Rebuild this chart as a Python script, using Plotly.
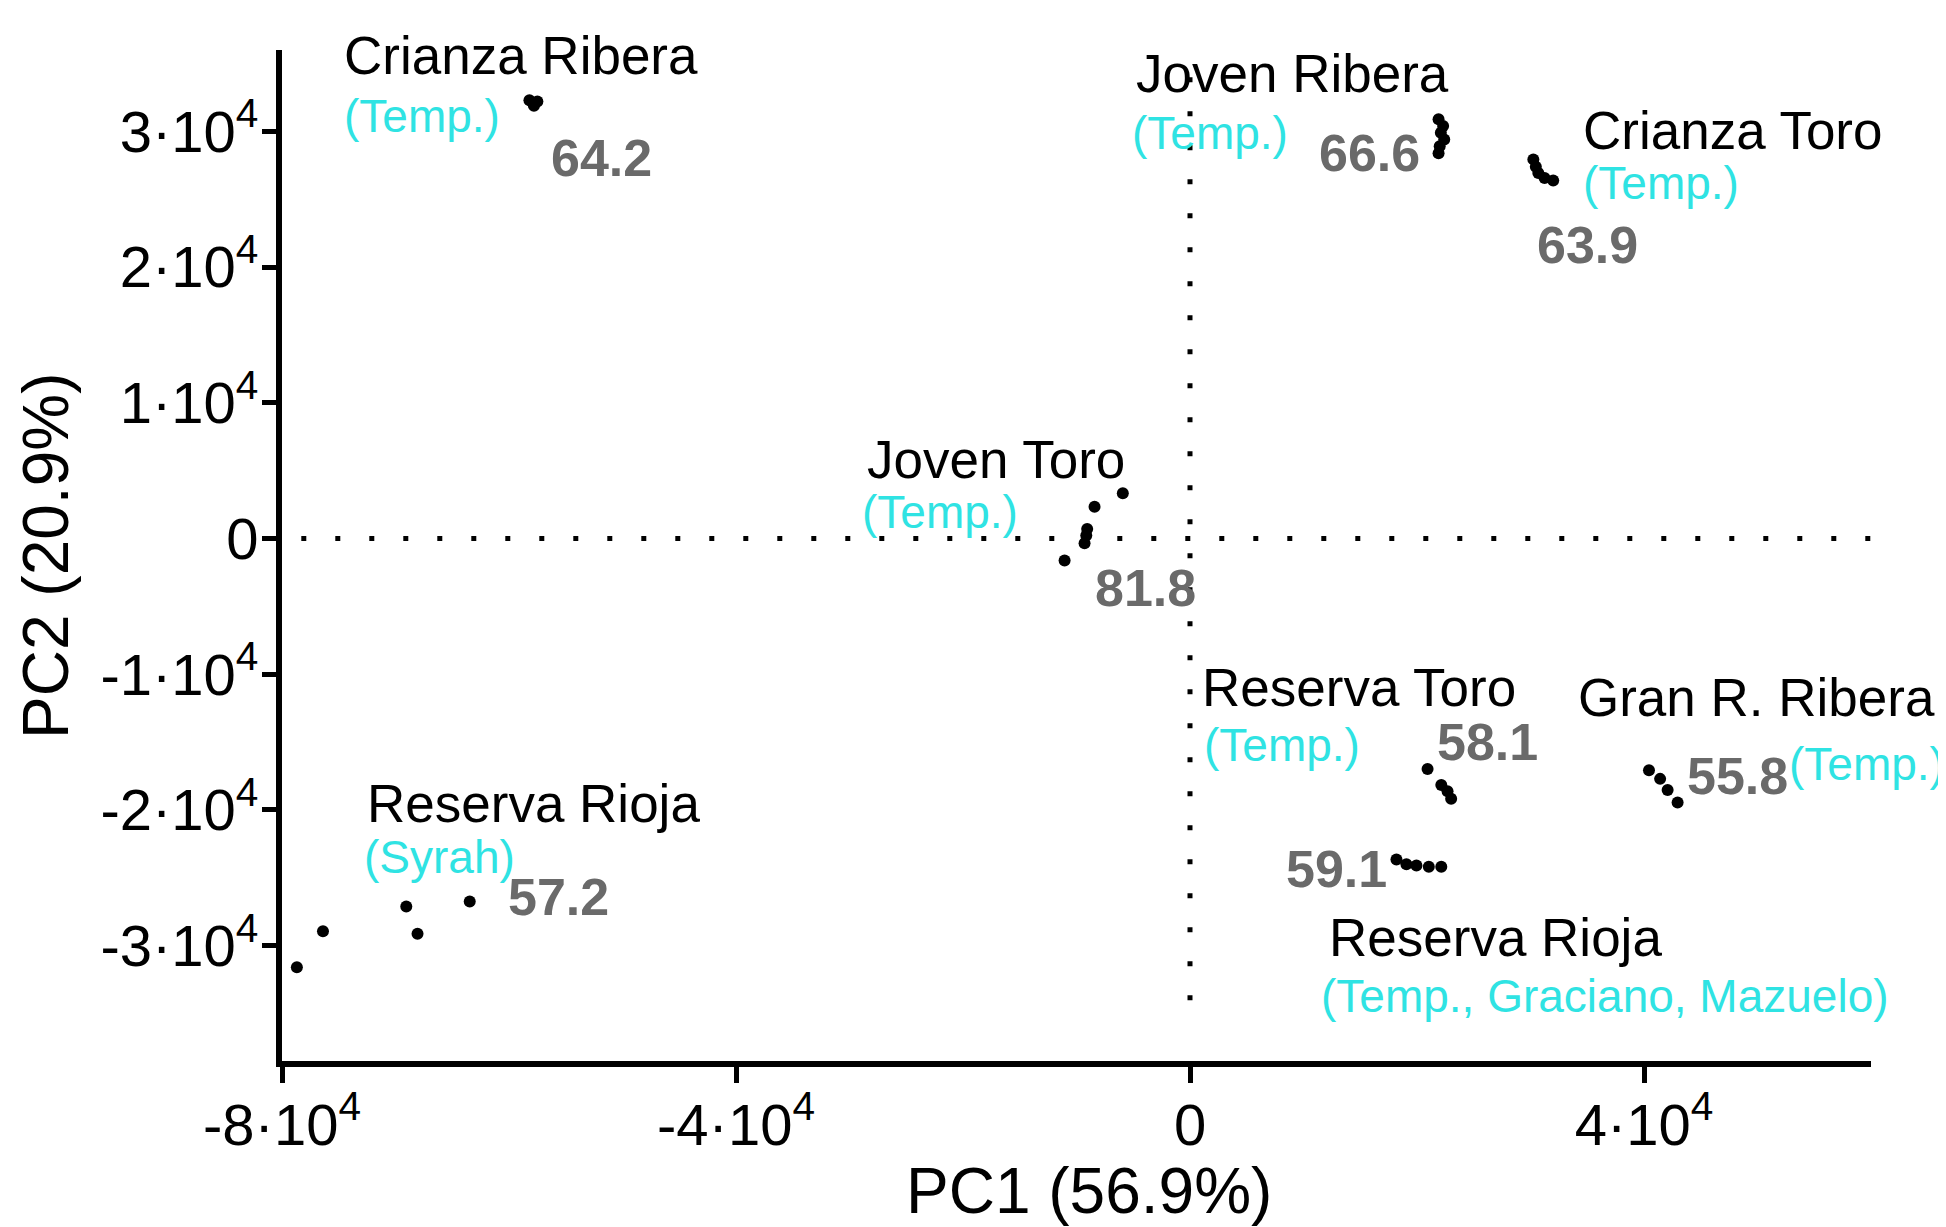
import plotly.graph_objects as go

# ---- data (PC1, PC2 scores) ----
crianza_ribera_x = [-58200, -57800, -57500, -57900]
crianza_ribera_y = [32300, 31900, 32200, 32100]

joven_ribera_x = [21900, 22300, 22100, 22400, 22000, 21900]
joven_ribera_y = [30900, 30400, 29900, 29400, 28900, 28400]

crianza_toro_x = [30250, 30470, 30690, 31240, 32000]
crianza_toro_y = [27940, 27390, 26930, 26570, 26390]

joven_toro_x = [-5920, -8410, -9060, -9140, -9290, -11050]
joven_toro_y = [3330, 2350, 710, 220, -350, -1620]

reserva_toro_x = [20930, 22140, 22690, 23010]
reserva_toro_y = [-16980, -18170, -18630, -19170]

gran_ribera_x = [40440, 41420, 42080, 42960]
gran_ribera_y = [-17070, -17710, -18530, -19450]

reserva_rioja_t_x = [18190, 19070, 19950, 21040, 22140]
reserva_rioja_t_y = [-23650, -24010, -24100, -24190, -24190]

reserva_rioja_s_x = [-63460, -69050, -68060, -76390, -78690]
reserva_rioja_s_y = [-26750, -27120, -29120, -28940, -31590]

x_tickvals = [-80000, -40000, 0, 40000]
x_ticktext = ["-8·10<sup>4</sup>", "-4·10<sup>4</sup>", "0", "4·10<sup>4</sup>"]
y_tickvals = [-30000, -20000, -10000, 0, 10000, 20000, 30000]
y_ticktext = ["-3·10<sup>4</sup>", "-2·10<sup>4</sup>", "-1·10<sup>4</sup>", "0",
              "1·10<sup>4</sup>", "2·10<sup>4</sup>", "3·10<sup>4</sup>"]

x_title = "PC1 (56.9%)"
y_title = "PC2 (20.9%)"

# labels
label_texts = ["Crianza Ribera", "(Temp.)", "64.2",
               "Joven Ribera", "(Temp.)", "66.6",
               "Crianza Toro", "(Temp.)", "63.9",
               "Joven Toro", "(Temp.)", "81.8",
               "Reserva Toro", "(Temp.)", "58.1",
               "Gran R. Ribera", "55.8", "(Temp.)",
               "59.1", "Reserva Rioja", "(Temp., Graciano, Mazuelo)",
               "Reserva Rioja", "(Syrah)", "57.2"]
label_kinds = ["name", "grape", "num",
               "name", "grape", "num",
               "name", "grape", "num",
               "name", "grape", "num",
               "name", "grape", "num",
               "name", "num", "grape",
               "numr", "name", "grape",
               "name", "grape", "num"]
label_x = [-74750, -74750, -56440,
           -4930, -5260, 11180,
           34410, 34410, 30360,
           -28610, -29040, -8550,
           880, 1100, 21590,
           33980, 43620, 52610,
           17540, 12060, 11400,
           -72660, -72990, -60280]
label_y = [35600, 31130, 28030,
           34240, 29860, 28390,
           30040, 26200, 21640,
           5840, 1920, -3650,
           -10960, -15250, -14970,
           -11690, -17530, -16620,
           -24380, -29400, -33690,
           -19540, -23460, -26390]

FONT = "Liberation Sans, Arial, sans-serif"

fig = go.Figure()
groups = [
    (crianza_ribera_x, crianza_ribera_y),
    (joven_ribera_x, joven_ribera_y),
    (crianza_toro_x, crianza_toro_y),
    (joven_toro_x, joven_toro_y),
    (reserva_toro_x, reserva_toro_y),
    (gran_ribera_x, gran_ribera_y),
    (reserva_rioja_t_x, reserva_rioja_t_y),
    (reserva_rioja_s_x, reserva_rioja_s_y),
]
for gx, gy in groups:
    fig.add_trace(go.Scatter(x=gx, y=gy, mode="markers",
                             marker=dict(color="black", size=12),
                             showlegend=False, hoverinfo="skip"))

# dotted reference lines
fig.add_shape(type="line", xref="x", yref="y", x0=-78300, x1=60000, y0=0, y1=0,
              line=dict(color="black", width=5, dash="5px,29px"), layer="below")
fig.add_shape(type="line", xref="x", yref="y", x0=0, x1=0, y0=34000, y1=-35400,
              line=dict(color="black", width=5, dash="5px,29px"), layer="below")

styles = {
    "name": dict(color="black", size=53, family=FONT),
    "grape": dict(color="#2FE3E3", size=46, family=FONT),
    "num": dict(color="#6a6a6a", size=52, family=FONT, weight="bold"),
    "numr": dict(color="#6a6a6a", size=52, family=FONT, weight="bold"),
}
for t, k, lx, ly in zip(label_texts, label_kinds, label_x, label_y):
    fig.add_annotation(x=lx, y=ly, xref="x", yref="y", text=t, showarrow=False,
                       xanchor="right" if k == "numr" else "left", yanchor="middle",
                       font=styles[k])

# axis titles
fig.add_annotation(x=-8880, y=0, xref="x", yref="paper", yshift=-130,
                   text=x_title, showarrow=False, xanchor="center", yanchor="middle",
                   font=dict(family=FONT, size=64, color="black"))
fig.add_annotation(x=0, y=-1280, xref="paper", yref="y", xshift=-236,
                   text=y_title, showarrow=False, textangle=-90,
                   xanchor="center", yanchor="middle",
                   font=dict(family=FONT, size=64, color="black"))

fig.update_xaxes(range=[-80000, 60000], tickvals=x_tickvals, ticktext=x_ticktext,
                 showline=True, linecolor="black", linewidth=6,
                 ticks="outside", ticklen=16, tickwidth=5, tickcolor="black",
                 ticklabelstandoff=-8,
                 showgrid=False, zeroline=False, automargin=False,
                 tickfont=dict(family=FONT, size=58, color="black"))
fig.update_yaxes(range=[-38500, 36000], tickvals=y_tickvals, ticktext=y_ticktext,
                 showline=True, linecolor="black", linewidth=6,
                 ticks="outside", ticklen=14, tickwidth=5, tickcolor="black",
                 ticklabelstandoff=-8,
                 showgrid=False, zeroline=False, automargin=False,
                 tickfont=dict(family=FONT, size=58, color="black"))

fig.update_layout(width=1946, height=1227, plot_bgcolor="white", paper_bgcolor="white",
                  margin=dict(l=274, r=83, t=42, b=174, autoexpand=False), showlegend=False)

fig.write_html("out.html")
